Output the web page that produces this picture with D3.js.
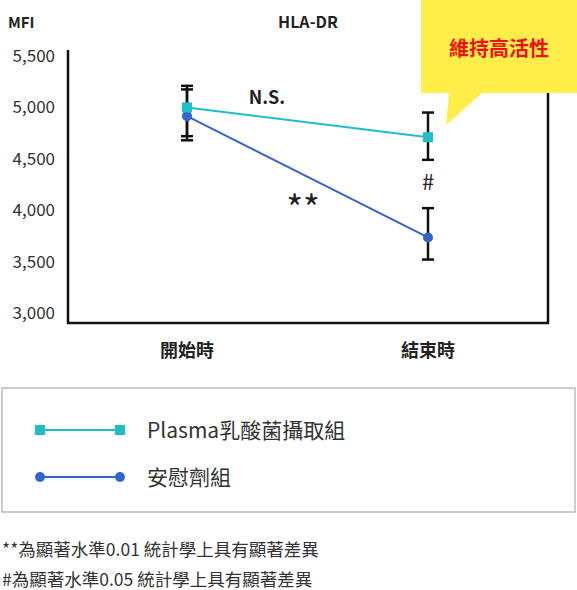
<!DOCTYPE html>
<html><head><meta charset="utf-8">
<script src="https://cdn.jsdelivr.net/npm/d3@7"></script>
<style>body{margin:0;background:#fff}text{font-family:"Noto Sans CJK TC","Noto Sans",sans-serif}</style>
</head><body>
<svg id="c" width="577" height="590"></svg>
<script>
// data
const categories = ["開始時", "結束時"];
const seriesNames = ["Plasma乳酸菌攝取組", "安慰劑組"];
const plasmaValues = [5000, 4710];
const plasmaHigh = [5210, 4950];
const plasmaLow = [4720, 4490];
const placeboValues = [4915, 3735];
const placeboHigh = [5175, 4020];
const placeboLow = [4680, 3520];
const yTicks = [3000, 3500, 4000, 4500, 5000, 5500];

const svg = d3.select("#c");
const x = d3.scalePoint().domain(categories).range([187, 428]);
const y = d3.scaleLinear().domain([3000, 5500]).range([313, 56]);

// frame
svg.append("path").attr("d", "M68,50V323H548V60").attr("fill", "none").attr("stroke", "#111").attr("stroke-width", 2.5);

const yAxis = svg.append("g").attr("transform", "translate(58,0)")
    .call(d3.axisLeft(y).tickValues(yTicks).tickFormat(d3.format(",")).tickSize(0));
yAxis.select(".domain").remove();
yAxis.selectAll("text").attr("font-size", 17).attr("fill", "#333").attr("font-family", "Noto Sans");

svg.selectAll(".xl").data(categories).enter().append("text")
    .attr("x", d => x(d)).attr("y", 357).attr("text-anchor", "middle")
    .attr("font-size", 18).attr("font-weight", "bold").attr("fill", "#222").text(d => d);

svg.append("text").attr("x", 8).attr("y", 28).attr("font-size", 15).attr("font-weight", "bold").attr("fill", "#222").text("MFI");
svg.append("text").attr("x", 308).attr("y", 28).attr("text-anchor", "middle").attr("font-size", 16).attr("font-weight", "bold").attr("fill", "#222").text("HLA-DR");

// error bars
function errs(vals, hi, lo) {
    vals.forEach((v, i) => {
        const cx = x(categories[i]);
        const g = svg.append("g").attr("stroke", "#111").attr("stroke-width", 2.5);
        g.append("line").attr("x1", cx).attr("x2", cx).attr("y1", y(hi[i])).attr("y2", y(lo[i]));
        [hi[i], lo[i]].forEach(e => g.append("line").attr("x1", cx - 6).attr("x2", cx + 6).attr("y1", y(e)).attr("y2", y(e)));
    });
}
errs(plasmaValues, plasmaHigh, plasmaLow);
errs(placeboValues, placeboHigh, placeboLow);

const line = d3.line().x((d, i) => x(categories[i])).y(d => y(d));
svg.append("path").datum(placeboValues).attr("d", line).attr("fill", "none").attr("stroke", "#3366cc").attr("stroke-width", 2);
svg.append("path").datum(plasmaValues).attr("d", line).attr("fill", "none").attr("stroke", "#1fbfc9").attr("stroke-width", 2);
svg.selectAll(".pc").data(placeboValues).enter().append("circle")
    .attr("cx", (d, i) => x(categories[i])).attr("cy", d => y(d)).attr("r", 5).attr("fill", "#3366cc");
svg.selectAll(".ps").data(plasmaValues).enter().append("rect")
    .attr("x", (d, i) => x(categories[i]) - 5).attr("y", d => y(d) - 5).attr("width", 10).attr("height", 10).attr("fill", "#1fbfc9");

// annotations
svg.append("text").attr("x", 267).attr("y", 104).attr("text-anchor", "middle").attr("font-size", 18).attr("font-weight", "bold").attr("fill", "#222").attr("font-family", "Noto Sans").text("N.S.");
svg.append("text").attr("x", 303).attr("y", 222).attr("text-anchor", "middle").attr("font-size", 36).attr("fill", "#222").attr("font-family", "DejaVu Sans").text("**");
svg.append("text").attr("x", 428).attr("y", 190).attr("text-anchor", "middle").attr("font-size", 22).attr("fill", "#222").text("#");

// callout
svg.append("path").attr("d", "M421,0H577V93H482L446,125L449,93H421Z").attr("fill", "#ffee4a");
svg.append("text").attr("x", 499).attr("y", 56).attr("text-anchor", "middle").attr("font-size", 20).attr("font-weight", "bold").attr("fill", "#ee1111").text("維持高活性");

// legend
svg.append("rect").attr("x", 2).attr("y", 388).attr("width", 573).attr("height", 124).attr("fill", "none").attr("stroke", "#bbb").attr("stroke-width", 1.5);
const colors = ["#1fbfc9", "#3366cc"];
seriesNames.forEach((s, i) => {
    const ly = 430 + i * 47;
    svg.append("line").attr("x1", 40).attr("x2", 120).attr("y1", ly).attr("y2", ly).attr("stroke", colors[i]).attr("stroke-width", 2);
    [40, 120].forEach(px => {
        if (i === 0) svg.append("rect").attr("x", px - 5).attr("y", ly - 5).attr("width", 10).attr("height", 10).attr("fill", colors[i]);
        else svg.append("circle").attr("cx", px).attr("cy", ly).attr("r", 5).attr("fill", colors[i]);
    });
    svg.append("text").attr("x", 147).attr("y", ly + 8).attr("font-size", 21).attr("fill", "#333").text(s);
});

const notes = ["**為顯著水準0.01 統計學上具有顯著差異", "#為顯著水準0.05 統計學上具有顯著差異"];
svg.selectAll(".nt").data(notes).enter().append("text")
    .attr("x", 2).attr("y", (d, i) => 556 + i * 30).attr("font-size", 17.5).attr("fill", "#333").text(d => d);
</script>
</body></html>
